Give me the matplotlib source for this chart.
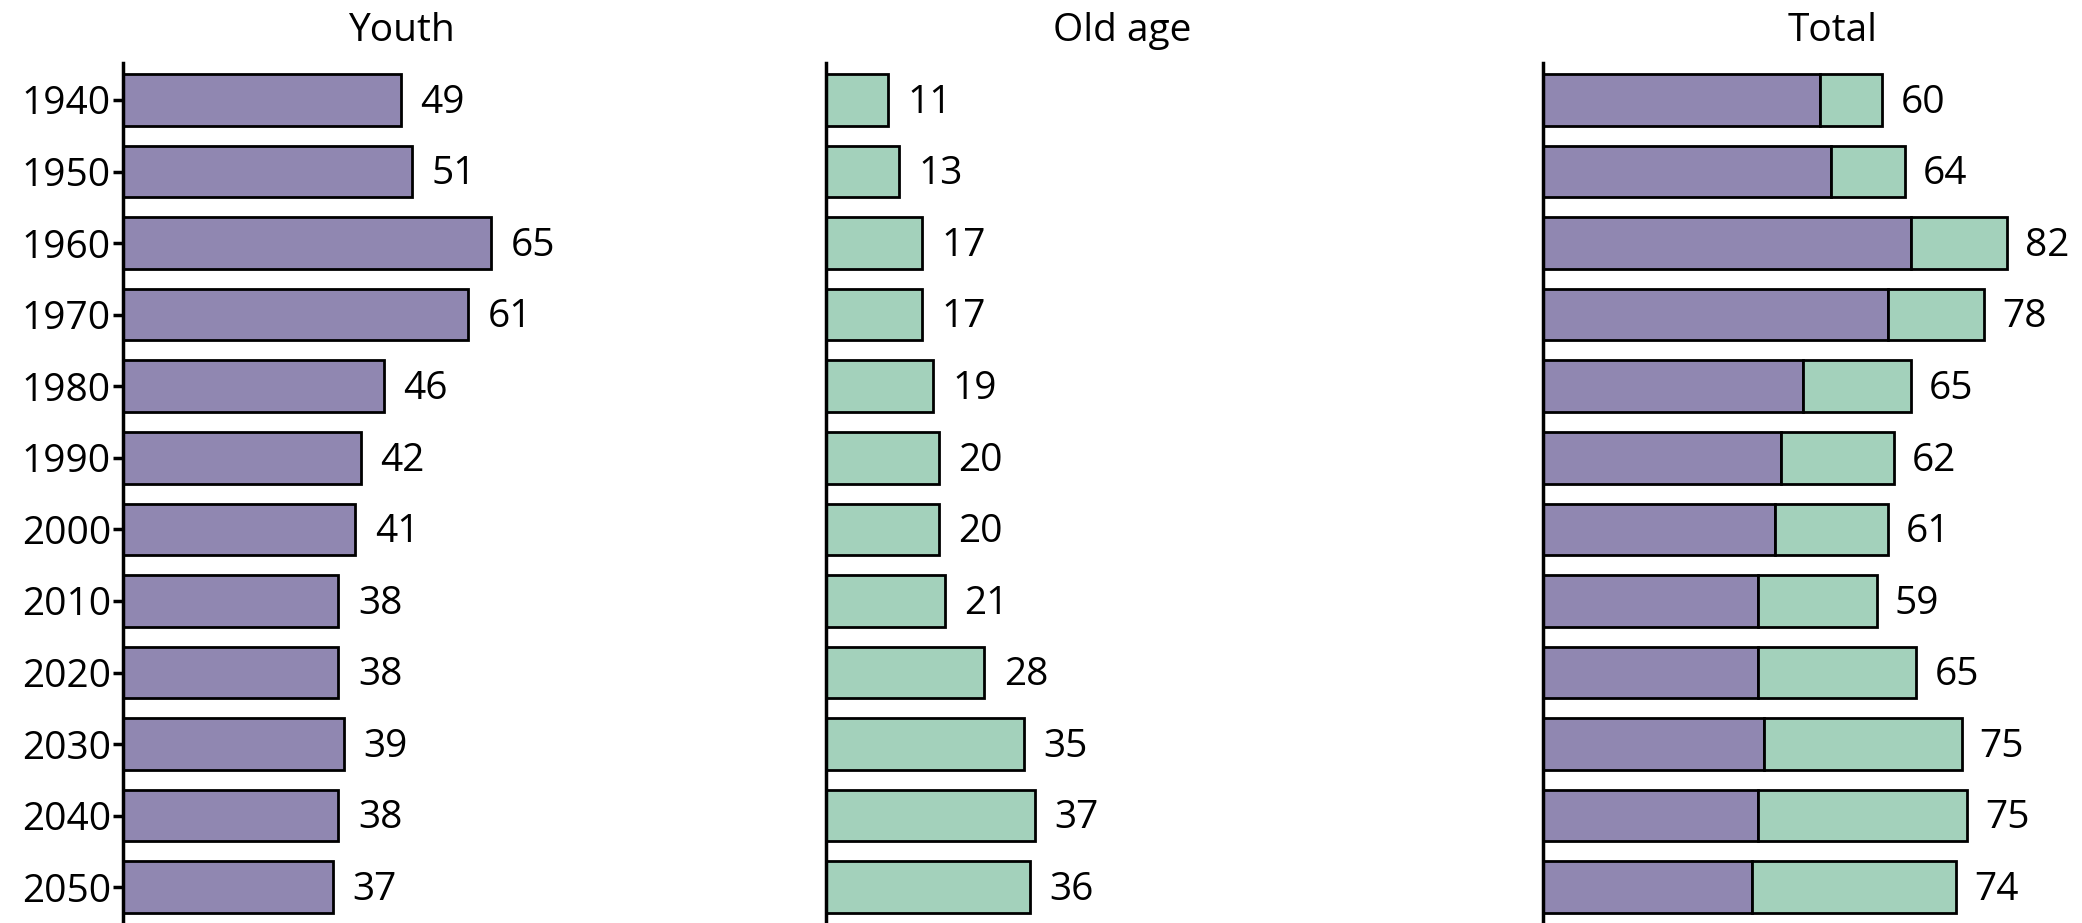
import matplotlib
matplotlib.use("Agg")
import matplotlib.pyplot as plt

years = ["1940", "1950", "1960", "1970", "1980", "1990", "2000", "2010", "2020", "2030", "2040", "2050"]
youth = [49, 51, 65, 61, 46, 42, 41, 38, 38, 39, 38, 37]
old_age = [11, 13, 17, 17, 19, 20, 20, 21, 28, 35, 37, 36]
total_labels = [60, 64, 82, 78, 65, 62, 61, 59, 65, 75, 75, 74]
titles = ["Youth", "Old age", "Total"]

PURPLE = "#9087B1"
GREEN = "#A3D1BB"

plt.rcParams['font.family'] = ['Open Sans', 'DejaVu Sans']
fig = plt.figure(figsize=(20.82, 9.23), dpi=100)

lefts = [0.0593, 0.3967, 0.7411]
title_x = [0.481, 0.513, 0.502]
width = 0.2771
bottom = 0.0
height = 0.932
fs = 28
bh = 0.72
lw = 2.0

ypos = list(range(len(years)))
axes = []
for i, l in enumerate(lefts):
    ax = fig.add_axes([l, bottom, width, height])
    axes.append(ax)
    ax.set_xlim(0, 102)
    ax.set_ylim(11.5, -0.52)
    for s in ["top", "right", "bottom"]:
        ax.spines[s].set_visible(False)
    ax.spines["left"].set_linewidth(2.5)
    ax.set_xticks([])
    ax.set_title(titles[i], fontsize=fs, pad=16, x=title_x[i])

ax0, ax1, ax2 = axes
ax0.barh(ypos, youth, height=bh, color=PURPLE, edgecolor="black", linewidth=lw)
for y, v in zip(ypos, youth):
    ax0.annotate(str(v), (v, y), xytext=(14, -2), textcoords="offset points",
                 va="center", ha="left", fontsize=fs)
ax0.set_yticks(ypos)
ax0.set_yticklabels(years, fontsize=fs)
ax0.tick_params(axis="y", length=7, width=2.5, pad=2)

ax1.barh(ypos, old_age, height=bh, color=GREEN, edgecolor="black", linewidth=lw)
for y, v in zip(ypos, old_age):
    ax1.annotate(str(v), (v, y), xytext=(14, -2), textcoords="offset points",
                 va="center", ha="left", fontsize=fs)
ax1.set_yticks([])

ax2.barh(ypos, youth, height=bh, color=PURPLE, edgecolor="black", linewidth=lw)
ax2.barh(ypos, old_age, left=youth, height=bh, color=GREEN, edgecolor="black", linewidth=lw)
for y, a, b, t in zip(ypos, youth, old_age, total_labels):
    ax2.annotate(str(t), (a + b, y), xytext=(13, -2), textcoords="offset points",
                 va="center", ha="left", fontsize=fs)
ax2.set_yticks([])

fig.savefig("out.png", dpi=100)
